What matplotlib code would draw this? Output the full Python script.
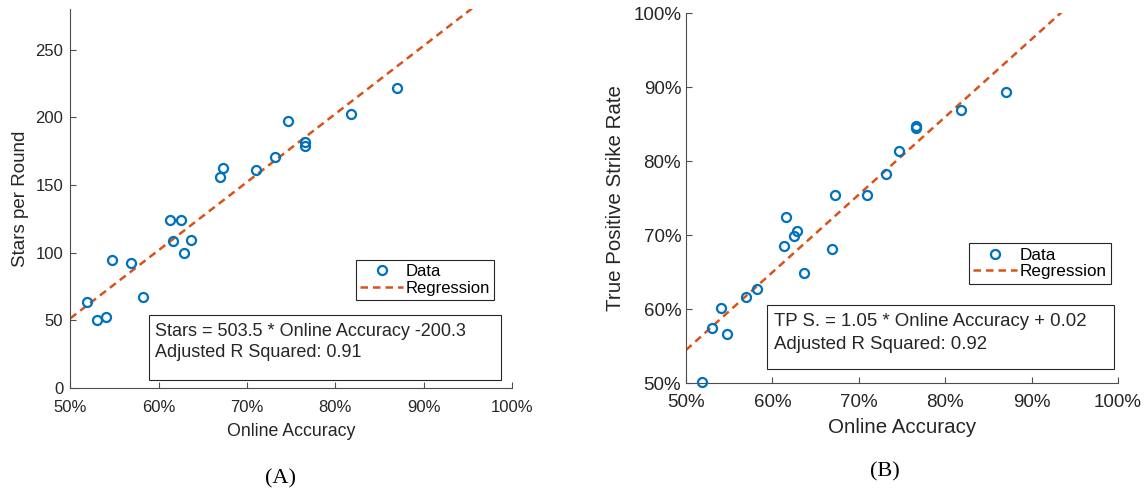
import matplotlib
matplotlib.use("Agg")
import matplotlib.pyplot as plt
from matplotlib.patches import Rectangle
from matplotlib.lines import Line2D
from matplotlib.ticker import PercentFormatter
import numpy as np

# Online accuracy of each player (fraction)
accuracy = [0.519, 0.530, 0.540, 0.547, 0.569, 0.582, 0.613, 0.616, 0.625,
            0.629, 0.637, 0.669, 0.673, 0.710, 0.732, 0.747, 0.766, 0.766,
            0.818, 0.870]
# Average stars per round
stars = [63.4, 49.9, 52.3, 94.5, 92.3, 67.1, 124.1, 108.8, 124.1, 99.5,
         109.3, 156.0, 162.4, 160.9, 171.0, 197.0, 182.1, 179.0, 202.6, 221.9]
# True positive strike rate (fraction)
tp_rate = [0.502, 0.5745, 0.6016, 0.567, 0.616, 0.627, 0.685, 0.725, 0.699,
           0.7055, 0.649, 0.682, 0.754, 0.755, 0.783, 0.814, 0.8455, 0.8475,
           0.870, 0.894]

# Fitted regressions
stars_slope, stars_icpt, stars_r2 = 503.5, -200.3, 0.91
tp_slope, tp_icpt, tp_r2 = 1.05, 0.02, 0.92

BLUE = "#0072BD"
ORANGE = "#D95319"
AX_COL = "#4d4d4d"
TXT_COL = "#262626"
plt.rcParams["font.family"] = ["Liberation Sans", "DejaVu Sans"]

fig = plt.figure(figsize=(11.46, 4.93), dpi=100)
W, H = 1146, 493


def add_panel(px_left, px_right, px_top, px_bottom):
    return fig.add_axes([px_left / W, 1 - px_bottom / H,
                         (px_right - px_left) / W, (px_bottom - px_top) / H])


def style_axes(ax, fs, xpad, ypad):
    for side in ("top", "right"):
        ax.spines[side].set_visible(False)
    for side in ("left", "bottom"):
        ax.spines[side].set_color(AX_COL)
        ax.spines[side].set_linewidth(0.8)
    ax.tick_params(direction="in", length=4, width=0.8, color=AX_COL,
                   labelsize=fs, labelcolor=TXT_COL)
    ax.tick_params(axis="x", pad=xpad)
    ax.tick_params(axis="y", pad=ypad)
    ax.xaxis.set_major_formatter(PercentFormatter(xmax=1, decimals=0))


def add_legend(ax, x_right, y_top, fs):
    handles = [
        Line2D([], [], ls="none", marker="o", ms=6.5, mfc="none", mec=BLUE, mew=1.6),
        Line2D([], [], ls="--", color=ORANGE, lw=1.8, dashes=(3, 2)),
    ]
    leg = ax.legend(handles, ["Data", "Regression"], loc="upper right",
                    bbox_to_anchor=(x_right, y_top), fontsize=fs, fancybox=False,
                    framealpha=1, edgecolor=TXT_COL, borderpad=0.25,
                    handlelength=2.6, handletextpad=0.15, labelspacing=0.1,
                    borderaxespad=0)
    leg.get_frame().set_linewidth(0.8)


def add_fit_box(ax, x0, y0, x1, y1, tx, ty1, ty2, lines, fs):
    ax.add_patch(Rectangle((x0, y0), x1 - x0, y1 - y0, transform=ax.transAxes,
                           fill=True, facecolor="white", edgecolor=TXT_COL,
                           lw=0.8, clip_on=False, zorder=5))
    ax.text(tx, ty1, lines[0], transform=ax.transAxes, fontsize=fs,
            color=TXT_COL, va="center", ha="left", zorder=6)
    ax.text(tx, ty2, lines[1], transform=ax.transAxes, fontsize=fs,
            color=TXT_COL, va="center", ha="left", zorder=6)


xs = np.array([0.5, 1.0])

# (A) stars per round
ax1 = add_panel(70.3, 512, 9, 388)
ax1.plot(xs, stars_slope * xs + stars_icpt, ls="--", color=ORANGE, lw=1.8,
         dashes=(3, 2), zorder=2)
ax1.plot(accuracy, stars, ls="none", marker="o", ms=6.5, mfc="none", mec=BLUE,
         mew=1.6, zorder=3)
ax1.set_xlim(0.5, 1.0)
ax1.set_ylim(0, 280)
ax1.set_yticks([0, 50, 100, 150, 200, 250])
style_axes(ax1, 12, 8.5, 5)
ax1.set_xlabel("Online Accuracy", fontsize=12.8, color=TXT_COL, labelpad=6)
ax1.set_ylabel("Stars per Round", fontsize=13.5, color=TXT_COL, labelpad=5)
add_legend(ax1, 0.960, 0.338, 12)
add_fit_box(ax1, 0.1775, 0.021, 0.976, 0.192, 0.192, 0.150, 0.093,
            ["Stars = %.1f * Online Accuracy %.1f" % (stars_slope, stars_icpt),
             "Adjusted R Squared: %.2f" % stars_r2], 13)
fig.text(281 / W, 1 - 479 / H, "(A)", family="Liberation Serif", fontsize=16,
         ha="center", va="center", color="black")

# (B) true positive strike rate
ax2 = add_panel(686, 1118, 13.3, 383.3)
ax2.plot(xs, tp_slope * xs + tp_icpt, ls="--", color=ORANGE, lw=1.8,
         dashes=(3, 2), zorder=2)
ax2.plot(accuracy, tp_rate, ls="none", marker="o", ms=6.5, mfc="none", mec=BLUE,
         mew=1.6, zorder=3, clip_on=False)
ax2.set_xlim(0.5, 1.0)
ax2.set_ylim(0.5, 1.0)
ax2.set_yticks(np.arange(0.5, 1.01, 0.1))
style_axes(ax2, 13.5, 8, 3.5)
ax2.yaxis.set_major_formatter(PercentFormatter(xmax=1, decimals=0))
ax2.set_xlabel("Online Accuracy", fontsize=14.8, color=TXT_COL, labelpad=5)
ax2.set_ylabel("True Positive Strike Rate", fontsize=14.8, color=TXT_COL,
               labelpad=6)
add_legend(ax2, 0.984, 0.378, 12.3)
add_fit_box(ax2, 0.187, 0.040, 0.990, 0.2106, 0.203, 0.167, 0.106,
            ["TP S. = %.2f * Online Accuracy + %.2f" % (tp_slope, tp_icpt),
             "Adjusted R Squared: %.2f" % tp_r2], 13.4)
fig.text(885 / W, 1 - 472 / H, "(B)", family="Liberation Serif", fontsize=16,
         ha="center", va="center", color="black")

fig.savefig("out.png", dpi=100)
